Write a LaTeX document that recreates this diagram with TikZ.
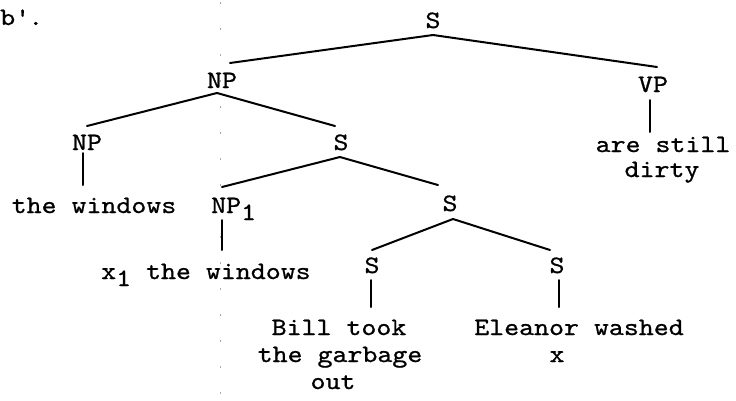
\documentclass[tikz,border=0pt]{standalone}
\usepackage{fontspec}
\newfontfamily\tw{lmmono10-regular}[Extension=.otf, FakeStretch=1.14, FakeBold=0.8]
\usetikzlibrary{calc}
\newcommand{\sbone}{\raisebox{-7pt}{1}}
\begin{document}
\begin{tikzpicture}[x=1pt,y=-1pt,
  lab/.style={font=\tw\fontsize{25}{27}\selectfont, inner sep=0pt, anchor=base},
  labw/.style={lab, anchor=base west},
  br/.style={line width=2pt, line cap=round},
  fold/.style={gray!70, line width=0.9pt, dash pattern=on 2pt off 24pt}]
\path[use as bounding box] (0,0) rectangle (736,400);
% faint fold mark
\coordinate (f0) at (220,2);
\coordinate (f1) at (220,400);
\draw[fold] (f0) -- (f1);
% labels
\node[labw] (pre) at (0,25) {b\textquotesingle.};
\node[lab] (s0) at (433,28) {S};
\node[lab] (np0) at (222,88) {NP};
\node[lab] (vp) at (653,92) {VP};
\node[lab] (still) at (663,152) {are still};
\node[lab] (dirty) at (662,177) {dirty};
\node[lab] (npl) at (87,150) {NP};
\node[lab] (win) at (94,213) {the windows};
\node[lab] (sm) at (341,150) {S};
\node[labw] (np1) at (211,213) {NP\sbone};
\node[labw] (xw) at (101,279) {x\sbone{} the windows};
\node[lab] (sr) at (450,211) {S};
\node[lab] (slb) at (372,273) {S};
\node[lab] (srb) at (557,273) {S};
\node[lab] (bill) at (339,335) {Bill took};
\node[lab] (garb) at (340,362) {the garbage};
\node[lab] (out) at (333,389) {out};
\node[lab] (ele) at (579,335) {Eleanor washed};
\node[lab] (xx) at (557,362) {x};
% branches
\draw[br] ($(s0.base)+(0,7)$) -- ($(np0.base)+(8,-25)$);
\draw[br] ($(s0.base)+(0,7)$) -- ($(vp.base)+(4,-25)$);
\draw[br] ($(vp.base)+(-3,8)$) -- ($(still.base)+(-13,-20)$);
\draw[br] ($(np0.base)+(-5,5)$) -- ($(npl.base)+(0,-24)$);
\draw[br] ($(np0.base)+(-5,5)$) -- ($(sm.base)+(-6,-24)$);
\draw[br] ($(npl.base)+(-4,3)$) -- ($(win.base)+(-11,-28)$);
\draw[br] ($(sm.base)+(-1,7)$) -- ($(np1.base west)+(11,-26)$);
\draw[br] ($(sm.base)+(-1,7)$) -- ($(sr.base)+(-12,-26)$);
\draw[br] ($(np1.base west)+(11,7)$) -- ($(xw.base west)+(121,-29)$);
\draw[br] ($(sr.base)+(3,8)$) -- ($(slb.base)+(0,-23)$);
\draw[br] ($(sr.base)+(3,8)$) -- ($(srb.base)+(-7,-23)$);
\draw[br] ($(slb.base)+(-1,7)$) -- ($(bill.base)+(32,-28)$);
\draw[br] ($(srb.base)+(2,7)$) -- ($(ele.base)+(-20,-28)$);
\end{tikzpicture}
\end{document}
